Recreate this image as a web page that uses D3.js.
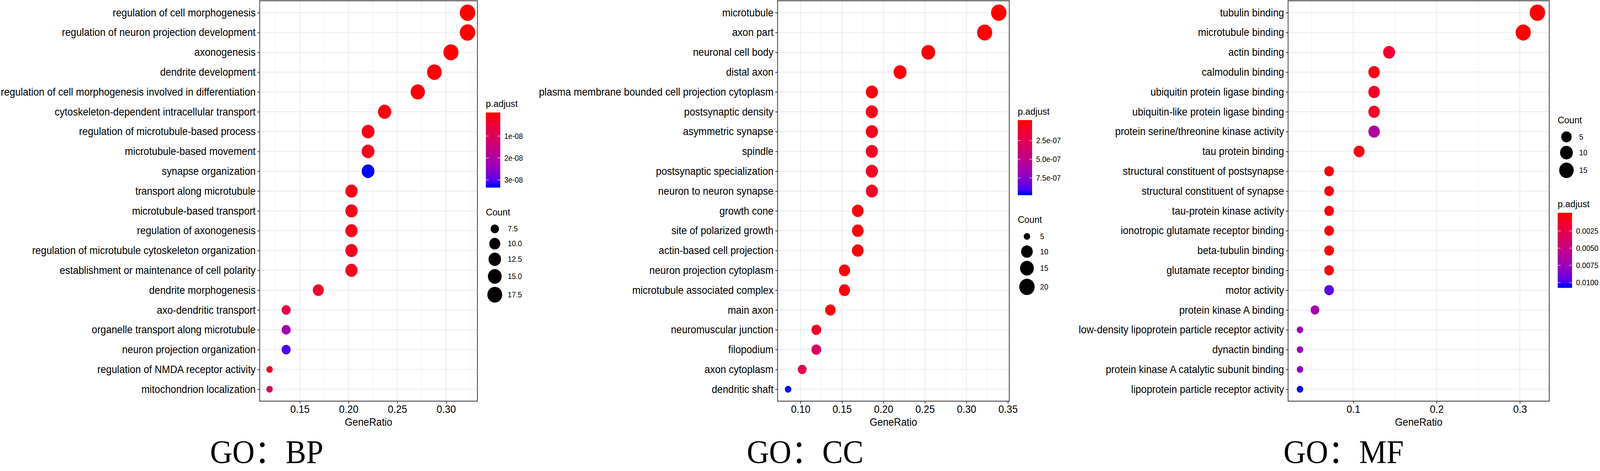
<!DOCTYPE html>
<html>
<head>
<meta charset="utf-8">
<script src="https://cdn.jsdelivr.net/npm/d3@7"></script>
<style>
  html, body { margin: 0; padding: 0; background: #fff; overflow: hidden; width: 100%; height: 100%; }
  #chart { width: 100vw; height: 100vh; }
  svg { display: block; width: 100%; height: 100%; }
</style>
</head>
<body>
<div id="chart"></div>
<script>
// ---- GO: BP ----
const bpTerms = [
  "regulation of cell morphogenesis",
  "regulation of neuron projection development",
  "axonogenesis",
  "dendrite development",
  "regulation of cell morphogenesis involved in differentiation",
  "cytoskeleton-dependent intracellular transport",
  "regulation of microtubule-based process",
  "microtubule-based movement",
  "synapse organization",
  "transport along microtubule",
  "microtubule-based transport",
  "regulation of axonogenesis",
  "regulation of microtubule cytoskeleton organization",
  "establishment or maintenance of cell polarity",
  "dendrite morphogenesis",
  "axo-dendritic transport",
  "organelle transport along microtubule",
  "neuron projection organization",
  "regulation of NMDA receptor activity",
  "mitochondrion localization"
];
const bpRatio = [0.322, 0.322, 0.305, 0.288, 0.271, 0.237, 0.220, 0.220, 0.220, 0.203,
                 0.203, 0.203, 0.203, 0.203, 0.169, 0.136, 0.136, 0.136, 0.119, 0.119];
const bpCount = [19, 19, 18, 17, 16, 14, 13, 13, 13, 12, 12, 12, 12, 12, 10, 8, 8, 8, 7, 7];
const bpPadj  = [1.0e-10, 1.2e-10, 2.0e-10, 4.0e-10, 6.0e-10, 1.0e-09, 1.5e-09, 1.8e-09, 3.27e-08, 1.5e-09,
                 1.5e-09, 1.8e-09, 2.0e-09, 2.2e-09, 4.0e-09, 6.5e-09, 2.2e-08, 3.05e-08, 2.5e-09, 1.08e-08];
const bpXTicks = [0.15, 0.20, 0.25, 0.30];
const bpXLabels = ["0.15", "0.20", "0.25", "0.30"];
const bpPTicks = [1e-08, 2e-08, 3e-08];
const bpPLabels = ["1e-08", "2e-08", "3e-08"];
const bpSizeBreaks = [7.5, 10, 12.5, 15, 17.5];
const bpSizeLabels = ["7.5", "10.0", "12.5", "15.0", "17.5"];

// ---- GO: CC ----
const ccTerms = [
  "microtubule",
  "axon part",
  "neuronal cell body",
  "distal axon",
  "plasma membrane bounded cell projection cytoplasm",
  "postsynaptic density",
  "asymmetric synapse",
  "spindle",
  "postsynaptic specialization",
  "neuron to neuron synapse",
  "growth cone",
  "site of polarized growth",
  "actin-based cell projection",
  "neuron projection cytoplasm",
  "microtubule associated complex",
  "main axon",
  "neuromuscular junction",
  "filopodium",
  "axon cytoplasm",
  "dendritic shaft"
];
const ccRatio = [0.339, 0.322, 0.254, 0.220, 0.186, 0.186, 0.186, 0.186, 0.186, 0.186,
                 0.169, 0.169, 0.169, 0.153, 0.153, 0.136, 0.119, 0.119, 0.102, 0.085];
const ccCount = [20, 19, 15, 13, 11, 11, 11, 11, 11, 11, 10, 10, 10, 9, 9, 8, 7, 7, 6, 5];
const ccPadj  = [2.0e-10, 5.0e-10, 5.0e-09, 8.0e-09, 2.5e-08, 4.5e-08, 6.0e-08, 8.0e-08, 8.5e-08, 9.5e-08,
                 1.0e-08, 1.2e-08, 1.5e-08, 1.5e-08, 1.8e-08, 1.5e-08, 9.0e-08, 3.1e-07, 2.1e-07, 9.56e-07];
const ccXTicks = [0.10, 0.15, 0.20, 0.25, 0.30, 0.35];
const ccXLabels = ["0.10", "0.15", "0.20", "0.25", "0.30", "0.35"];
const ccPTicks = [2.5e-07, 5.0e-07, 7.5e-07];
const ccPLabels = ["2.5e-07", "5.0e-07", "7.5e-07"];
const ccSizeBreaks = [5, 10, 15, 20];
const ccSizeLabels = ["5", "10", "15", "20"];

// ---- GO: MF ----
const mfTerms = [
  "tubulin binding",
  "microtubule binding",
  "actin binding",
  "calmodulin binding",
  "ubiquitin protein ligase binding",
  "ubiquitin-like protein ligase binding",
  "protein serine/threonine kinase activity",
  "tau protein binding",
  "structural constituent of postsynapse",
  "structural constituent of synapse",
  "tau-protein kinase activity",
  "ionotropic glutamate receptor binding",
  "beta-tubulin binding",
  "glutamate receptor binding",
  "motor activity",
  "protein kinase A binding",
  "low-density lipoprotein particle receptor activity",
  "dynactin binding",
  "protein kinase A catalytic subunit binding",
  "lipoprotein particle receptor activity"
];
const mfRatio = [0.321, 0.304, 0.143, 0.125, 0.125, 0.125, 0.125, 0.107, 0.071, 0.071,
                 0.071, 0.071, 0.071, 0.071, 0.071, 0.054, 0.036, 0.036, 0.036, 0.036];
const mfCount = [18, 17, 8, 7, 7, 7, 7, 6, 4, 4, 4, 4, 4, 4, 4, 3, 2, 2, 2, 2];
const mfPadj  = [1.4e-04, 1.6e-04, 1.4e-03, 5.0e-04, 1.0e-03, 1.0e-03, 6.3e-03, 4.0e-04, 3.0e-04, 3.0e-04,
                 3.0e-04, 3.5e-04, 3.5e-04, 4.0e-04, 9.6e-03, 6.9e-03, 7.3e-03, 7.3e-03, 7.9e-03, 1.05e-02];
const mfXTicks = [0.1, 0.2, 0.3];
const mfXLabels = ["0.1", "0.2", "0.3"];
const mfPTicks = [0.0025, 0.0050, 0.0075, 0.0100];
const mfPLabels = ["0.0025", "0.0050", "0.0075", "0.0100"];
const mfSizeBreaks = [5, 10, 15];
const mfSizeLabels = ["5", "10", "15"];

(() => {
  const W = 4350, H = 1207;
  const SANS = "'Liberation Sans', Arial, Helvetica, sans-serif";
  const SERIF = "'Liberation Serif', 'Times New Roman', 'Noto Sans CJK SC', serif";
  const AXIS_FS = 27, LEG_FS = 19.8, LEG_TITLE_FS = 24.75;
  const PANEL_Y0 = 2, PANEL_Y1 = 1028;
  const D_MIN = 17.5, D_MAX = 42;   // diametre point (min / max count)

  const panels = [
    { title: "GO：BP", titleX: 725, x0: 706, x1: 1298,
      terms: bpTerms, ratio: bpRatio, count: bpCount, padj: bpPadj,
      xTicks: bpXTicks, xLabels: bpXLabels, pTicks: bpPTicks, pLabels: bpPLabels,
      sBreaks: bpSizeBreaks, sLabels: bpSizeLabels, order: ["color", "size"] },
    { title: "GO：CC", titleX: 2189, x0: 2114, x1: 2744,
      terms: ccTerms, ratio: ccRatio, count: ccCount, padj: ccPadj,
      xTicks: ccXTicks, xLabels: ccXLabels, pTicks: ccPTicks, pLabels: ccPLabels,
      sBreaks: ccSizeBreaks, sLabels: ccSizeLabels, order: ["color", "size"] },
    { title: "GO：MF", titleX: 3653, x0: 3502, x1: 4212,
      terms: mfTerms, ratio: mfRatio, count: mfCount, padj: mfPadj,
      xTicks: mfXTicks, xLabels: mfXLabels, pTicks: mfPTicks, pLabels: mfPLabels,
      sBreaks: mfSizeBreaks, sLabels: mfSizeLabels, order: ["size", "color"] }
  ];

  // viewBox fixe, l'SVG remplit la fenêtre quelle que soit sa taille réelle
  const svg = d3.select("#chart").append("svg")
    .attr("viewBox", [0, 0, W, H])
    .attr("preserveAspectRatio", "none");
  const defs = svg.append("defs");

  panels.forEach((p, idx) => {
    const g = svg.append("g");

    // --- scales ---
    const [lo, hi] = d3.extent(p.ratio);
    const pad = (hi - lo) * 0.05;
    const x = d3.scaleLinear().domain([lo - pad, hi + pad]).range([p.x0, p.x1]);
    const y = d3.scalePoint().domain(p.terms).range([PANEL_Y0, PANEL_Y1]).padding(0.6);

    const color = d3.scaleLinear()
      .domain(d3.extent(p.padj))
      .range(["red", "blue"])
      .interpolate(d3.interpolateLab);

    const [cMin, cMax] = d3.extent(p.count);
    const diam = d3.scaleSqrt().domain([0, cMax - cMin]).range([D_MIN, D_MAX]);
    const dOf = c => diam(Math.max(0, c - cMin));

    // --- grid ---
    const step = p.xTicks[1] - p.xTicks[0];
    const minor = p.xTicks.map(t => t - step / 2)
      .concat([p.xTicks[p.xTicks.length - 1] + step / 2])
      .filter(t => t > x.domain()[0] && t < x.domain()[1]);

    const grid = g.append("g");
    grid.selectAll("line.minor").data(minor).join("line")
      .attr("x1", d => x(d)).attr("x2", d => x(d))
      .attr("y1", PANEL_Y0).attr("y2", PANEL_Y1)
      .attr("stroke", "#ebebeb").attr("stroke-width", 1.1);
    grid.selectAll("line.major").data(p.xTicks).join("line")
      .attr("x1", d => x(d)).attr("x2", d => x(d))
      .attr("y1", PANEL_Y0).attr("y2", PANEL_Y1)
      .attr("stroke", "#ebebeb").attr("stroke-width", 2.2);
    grid.selectAll("line.hz").data(p.terms).join("line")
      .attr("x1", p.x0).attr("x2", p.x1)
      .attr("y1", d => y(d)).attr("y2", d => y(d))
      .attr("stroke", "#ebebeb").attr("stroke-width", 2.2);

    // --- points ---
    const rows = p.terms.map((t, i) => ({ term: t, ratio: p.ratio[i], count: p.count[i], padj: p.padj[i] }));
    g.append("g").selectAll("circle").data(rows).join("circle")
      .attr("cx", d => x(d.ratio))
      .attr("cy", d => y(d.term))
      .attr("r", d => dOf(d.count) / 2)
      .attr("fill", d => color(d.padj));

    // --- panel border ---
    g.append("rect")
      .attr("x", p.x0).attr("y", PANEL_Y0)
      .attr("width", p.x1 - p.x0).attr("height", PANEL_Y1 - PANEL_Y0)
      .attr("fill", "none").attr("stroke", "#333").attr("stroke-width", 2);

    // --- axes ---
    const ax = g.append("g")
      .attr("transform", `translate(0,${PANEL_Y1})`)
      .call(d3.axisBottom(x).tickValues(p.xTicks)
        .tickFormat((d, i) => p.xLabels[i]).tickSize(6).tickPadding(5));
    const ay = g.append("g")
      .attr("transform", `translate(${p.x0},0)`)
      .call(d3.axisLeft(y).tickSize(6).tickPadding(5));
    [ax, ay].forEach(a => {
      a.select(".domain").remove();
      a.selectAll(".tick line").attr("stroke", "#333").attr("stroke-width", 2);
      a.selectAll(".tick text")
        .attr("fill", "#000")
        .style("font-family", SANS)
        .style("font-size", AXIS_FS + "px");
    });

    g.append("text")
      .attr("x", (p.x0 + p.x1) / 2).attr("y", 1091)
      .attr("text-anchor", "middle")
      .style("font-family", SANS).style("font-size", AXIS_FS + "px")
      .text("GeneRatio");

    // --- big caption (kept inside the bottom edge) ---
    g.append("text")
      .attr("x", p.titleX).attr("y", 1187)
      .attr("text-anchor", "middle")
      .style("font-family", SERIF).style("font-size", "84px")
      .text(p.title);

    // --- legends (centred on panel) ---
    const L = p.x1 + 23;
    const BAR_W = 39, BAR_H = 192.4;
    const colorH = 34.8 + BAR_H;
    const keyD = p.sBreaks.map(dOf);
    const keyH = keyD.map(d => Math.max(38, d + 8));
    const keyW = Math.max(BAR_W, d3.max(keyD) + 8);
    const sizeH = 36.5 + d3.sum(keyH);
    const blockH = { color: colorH, size: sizeH };
    const total = blockH[p.order[0]] + 50.3 + blockH[p.order[1]];
    let top = (PANEL_Y0 + PANEL_Y1) / 2 - total / 2 + 1.5;

    const leg = g.append("g");
    const legTitle = (ty, txt) => leg.append("text")
      .attr("x", L).attr("y", ty + 12).attr("dy", "0.36em")
      .style("font-family", SANS).style("font-size", LEG_TITLE_FS + "px")
      .text(txt);

    const drawColor = t0 => {
      legTitle(t0, "p.adjust");
      const bTop = t0 + 34.8;
      const gid = `grad${idx}`;
      const [pMin, pMax] = color.domain();
      const grad = defs.append("linearGradient").attr("id", gid)
        .attr("x1", 0).attr("y1", 0).attr("x2", 0).attr("y2", 1);
      const nb = 20;
      grad.append("stop").attr("offset", 0).attr("stop-color", color(pMin));
      d3.range(nb + 1).forEach(i => {
        grad.append("stop")
          .attr("offset", 0.025 + 0.95 * i / nb)
          .attr("stop-color", color(pMin + (pMax - pMin) * i / nb));
      });
      grad.append("stop").attr("offset", 1).attr("stop-color", color(pMax));
      leg.append("rect")
        .attr("x", L).attr("y", bTop).attr("width", BAR_W).attr("height", BAR_H)
        .attr("fill", `url(#${gid})`);
      const py = d3.scaleLinear().domain([pMin, pMax])
        .range([bTop + BAR_H * 0.025, bTop + BAR_H * 0.975]);
      p.pTicks.forEach((v, i) => {
        const yy = py(v);
        [[L, L + BAR_W / 5], [L + BAR_W * 4 / 5, L + BAR_W]].forEach(([a, b]) => {
          leg.append("line").attr("x1", a).attr("x2", b).attr("y1", yy).attr("y2", yy)
            .attr("stroke", "#fff").attr("stroke-opacity", 0.75).attr("stroke-width", 1.5);
        });
        leg.append("text")
          .attr("x", L + BAR_W + 11).attr("y", yy).attr("dy", "0.35em")
          .style("font-family", SANS).style("font-size", LEG_FS + "px")
          .text(p.pLabels[i]);
      });
      return t0 + colorH;
    };

    const drawSize = t0 => {
      legTitle(t0, "Count");
      let ky = t0 + 36.5;
      p.sBreaks.forEach((b, i) => {
        const cy = ky + keyH[i] / 2;
        leg.append("circle")
          .attr("cx", L + keyW / 2).attr("cy", cy).attr("r", keyD[i] / 2)
          .attr("fill", "#000");
        leg.append("text")
          .attr("x", L + keyW + 11).attr("y", cy).attr("dy", "0.35em")
          .style("font-family", SANS).style("font-size", LEG_FS + "px")
          .text(p.sLabels[i]);
        ky += keyH[i];
      });
      return t0 + sizeH;
    };

    const drawers = { color: drawColor, size: drawSize };
    top = drawers[p.order[0]](top) + 50.3;
    drawers[p.order[1]](top);
  });
})();
</script>
</body>
</html>
